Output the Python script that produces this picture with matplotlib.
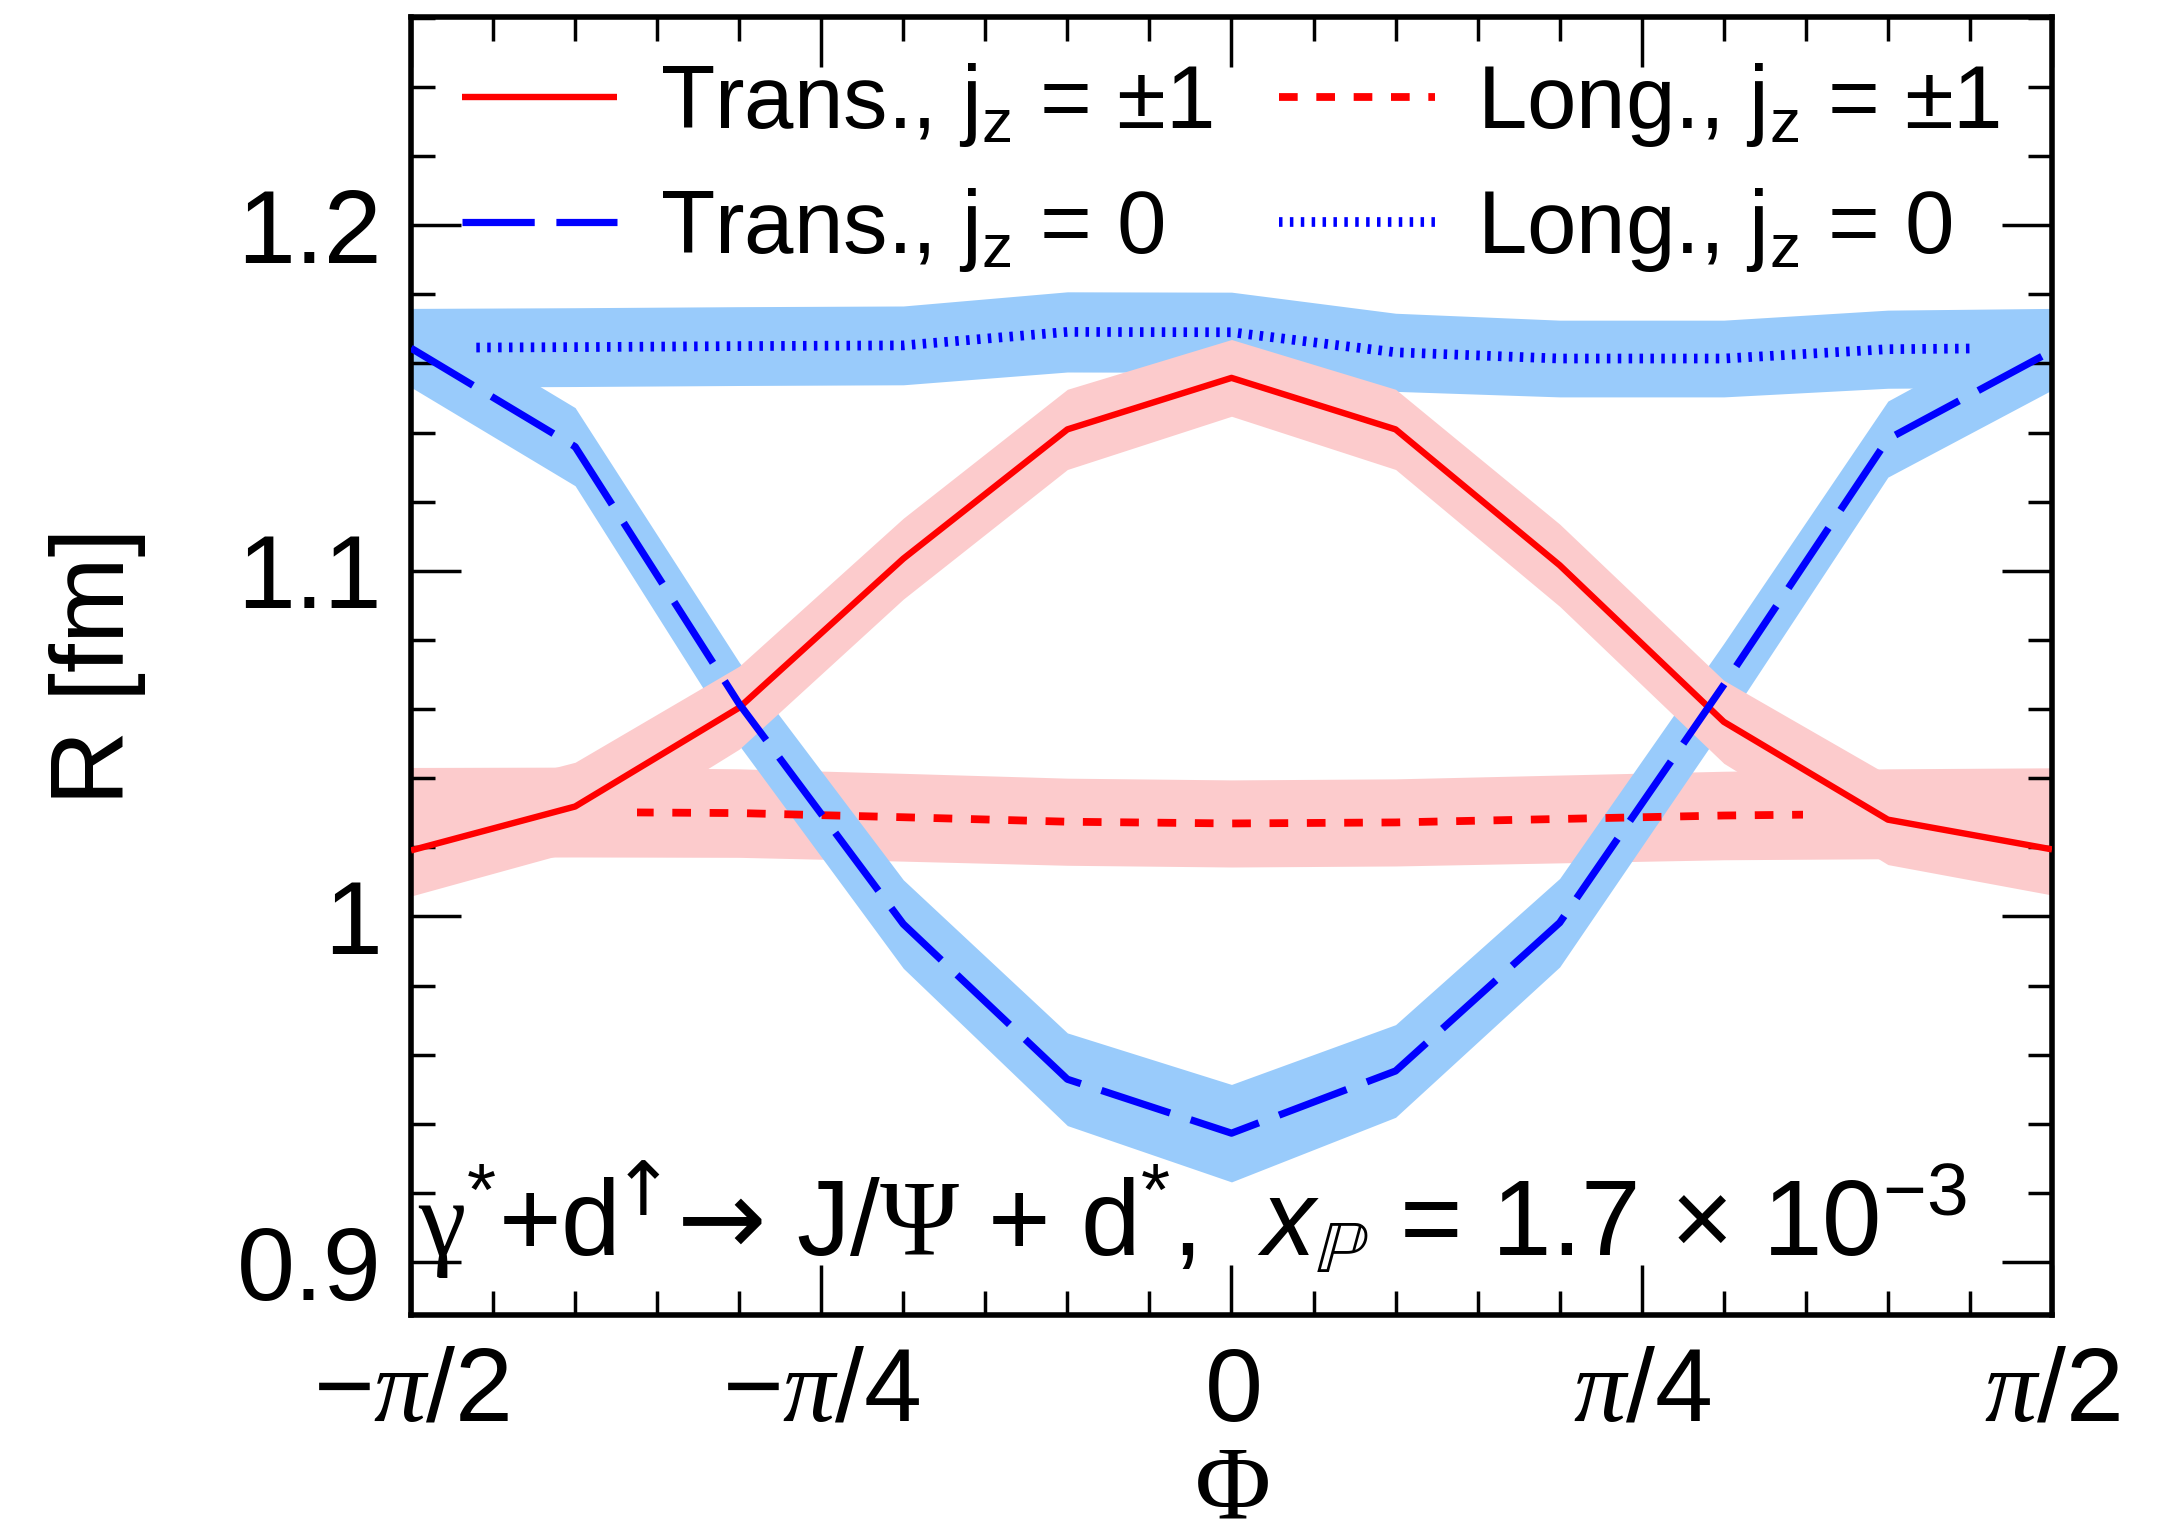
import numpy as np
import matplotlib
matplotlib.use("Agg")
import matplotlib.pyplot as plt
from matplotlib.patches import Rectangle
from matplotlib.ticker import MultipleLocator, FixedLocator, FixedFormatter

# Azimuthal angle grid, in units of pi
phi_over_pi = [-0.5, -0.4, -0.3, -0.2, -0.1, 0.0, 0.1, 0.2, 0.3, 0.4, 0.5]

# Radius R [fm] with half-width of the uncertainty band
trans_pm1 = [1.0191, 1.0318, 1.0604, 1.1035, 1.1409, 1.1558, 1.1409, 1.1016, 1.0563, 1.0280, 1.0194]
trans_pm1_err = [0.0132, 0.0128, 0.0120, 0.0117, 0.0116, 0.0111, 0.0116, 0.0119, 0.0120, 0.0130, 0.0132]

trans_0 = [1.1644, 1.1359, 1.0615, 0.9978, 0.9529, 0.9373, 0.9553, 0.9982, 1.0670, 1.1381, 1.1636]
trans_0_err = [0.0113, 0.0113, 0.0120, 0.0128, 0.0134, 0.0141, 0.0134, 0.0128, 0.0120, 0.0110, 0.0113]

long_pm1 = [1.0301, 1.0302, 1.0299, 1.0287, 1.0274, 1.0269, 1.0272, 1.0282, 1.0292, 1.0297, 1.0300]
long_pm1_err = [0.0130, 0.0130, 0.0128, 0.0127, 0.0126, 0.0126, 0.0126, 0.0127, 0.0128, 0.0130, 0.0130]

long_0 = [1.1645, 1.1647, 1.1650, 1.1652, 1.1691, 1.1690, 1.1632, 1.1614, 1.1614, 1.1641, 1.1645]
long_0_err = [0.0114, 0.0114, 0.0114, 0.0114, 0.0116, 0.0116, 0.0113, 0.0111, 0.0111, 0.0113, 0.0114]

# Range (units of pi) over which the longitudinal curves are drawn
long_pm1_span = [-0.362, 0.348]
long_0_span = [-0.463, 0.453]

legend_labels = [
    r"Trans., j$_{\mathregular{z}}$ = ±1",
    r"Trans., j$_{\mathregular{z}}$ = 0",
    r"Long., j$_{\mathregular{z}}$ = ±1",
    r"Long., j$_{\mathregular{z}}$ = 0",
]

x_tick_values = [-0.5, -0.25, 0.0, 0.25, 0.5]
x_tick_labels = [r"$-\mathcal{\pi}/2$", r"$-\mathcal{\pi}/4$", r"$0$",
                 r"$\mathcal{\pi}/4$", r"$\mathcal{\pi}/2$"]
y_tick_values = [0.9, 1.0, 1.1, 1.2]
y_tick_labels = ["0.9", "1", "1.1", "1.2"]

process_label = (r"$\mathsf{\gamma}^{*}$+d$^{\!\mathtt{↑}}$$\mathtt{→}$ "
                 r"J/$\mathsf{\Psi}$ + d$^{*}$,  "
                 r"$x_{\mathbb{P}}$ = 1.7 × 10$^{-3}$")

# ---------------------------------------------------------------- style
plt.rcParams["font.family"] = ["Liberation Sans", "DejaVu Sans"]
plt.rcParams["mathtext.fontset"] = "custom"
plt.rcParams["mathtext.rm"] = "Liberation Sans"
plt.rcParams["mathtext.it"] = "Liberation Sans:italic"
plt.rcParams["mathtext.sf"] = "Liberation Serif"
plt.rcParams["mathtext.cal"] = "Liberation Serif:italic"
plt.rcParams["mathtext.tt"] = "DejaVu Sans"
plt.rcParams["mathtext.fallback"] = "stix"

RED, BLUE = "#ff0000", "#0000ff"
PINK, LIGHTBLUE = "#fccbcc", "#99cbfb"

FS = 75
LEG_FS = 64
NOTE_FS = 77

fig = plt.figure(figsize=(21.77, 15.36), dpi=100)
ax = fig.add_axes([0.18879, 0.14388, 0.75379, 0.84505])

phi = np.array(phi_over_pi) * np.pi


def band(values, errs, color, z):
    v = np.array(values)
    e = np.array(errs)
    ax.fill_between(phi, v - e, v + e, color=color, lw=0, zorder=z)


band(long_pm1, long_pm1_err, PINK, 1.0)
band(long_0, long_0_err, LIGHTBLUE, 1.1)
band(trans_0, trans_0_err, LIGHTBLUE, 1.2)
band(trans_pm1, trans_pm1_err, PINK, 1.3)

h_tpm1, = ax.plot(phi, trans_pm1, color=RED, lw=4.6, solid_capstyle="butt", zorder=3)
h_lpm1, = ax.plot(phi, long_pm1, color=RED, lw=5.6, ls=(0, (2.4, 2.4)),
                  dash_capstyle="butt", zorder=3.1)
h_l0, = ax.plot(phi, long_0, color=BLUE, lw=7.0, ls=(0, (0.36, 0.76)),
                dash_capstyle="butt", zorder=3.2)
h_t0, = ax.plot(phi, trans_0, color=BLUE, lw=5.2, ls=(0, (10.0, 3.0)),
                dash_capstyle="butt", zorder=3.3)

# Longitudinal curves are shown only over their computed range
for line, span in ((h_lpm1, long_pm1_span), (h_l0, long_0_span)):
    lo, hi = span[0] * np.pi, span[1] * np.pi
    clip = Rectangle((lo, 0.5), hi - lo, 1.0, transform=ax.transData)
    line.set_clip_path(clip)

ax.set_xlim(-np.pi / 2, np.pi / 2)
ax.set_ylim(0.8847, 1.2602)

ax.xaxis.set_major_locator(FixedLocator(np.array(x_tick_values) * np.pi))
ax.xaxis.set_major_formatter(FixedFormatter(x_tick_labels))
ax.xaxis.set_minor_locator(MultipleLocator(np.pi / 20))
ax.yaxis.set_major_locator(FixedLocator(y_tick_values))
ax.yaxis.set_major_formatter(FixedFormatter(y_tick_labels))
ax.yaxis.set_minor_locator(MultipleLocator(0.02))

ax.tick_params(which="both", direction="in", top=True, right=True, width=2.5, colors="black")
ax.tick_params(which="major", length=36)
ax.tick_params(which="minor", length=17)
ax.tick_params(axis="x", which="major", labelsize=FS, pad=22)
ax.tick_params(axis="y", which="major", labelsize=FS, pad=21)
for s in ax.spines.values():
    s.set_linewidth(4)

ax.set_xlabel(r"$\mathsf{\Phi}$", fontsize=FS)
ax.xaxis.set_label_coords(0.5, -0.098)
ax.set_ylabel("R [fm]", fontsize=FS)
ax.yaxis.set_label_coords(-0.1615, 0.5)

leg = ax.legend([h_tpm1, h_t0, h_lpm1, h_l0], legend_labels, ncol=2,
                loc="upper left", bbox_to_anchor=(0.031, 0.966), frameon=False,
                prop={"size": LEG_FS},
                handlelength=1.75, handletextpad=0.48, columnspacing=0.75,
                labelspacing=0.42, borderpad=0, borderaxespad=0)

ax.text(0.004, 0.0458, process_label, transform=ax.transAxes, ha="left", va="baseline",
        fontsize=NOTE_FS, zorder=5)

fig.savefig("out.png", dpi=100)
